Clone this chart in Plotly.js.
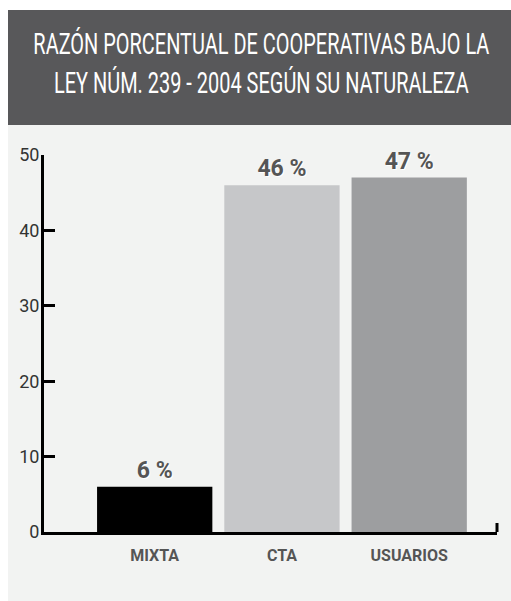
<!DOCTYPE html>
<html>
<head>
<meta charset="utf-8">
<script src="https://cdn.plot.ly/plotly-3.0.1.min.js"></script>
<style>
html,body{margin:0;padding:0;background:#fff;}
#chart{width:511px;height:601px;}
#chart .gtitle{transform:translateX(5px) scaleX(0.665);transform-origin:258px 0px;}
</style>
</head>
<body>
<div id="chart"></div>
<script>
const categories = ["MIXTA", "CTA", "USUARIOS"];
const values = [6, 46, 47];
const labels = ["6 %", "46 %", "47 %"];
const barColors = ["#000000", "#c6c7c9", "#9d9ea0"];
const yTicks = [0, 10, 20, 30, 40, 50];

const W = 511, H = 601;
const L = 44, R = 14, T = 155, B = 69;
const pw = W - L - R, ph = H - T - B;
const px = x => (x - L) / pw;
const py = y => (H - B - y) / ph;

const sans = "Roboto";

const trace = {
  type: "bar",
  x: categories,
  y: values,
  text: labels,
  textposition: "outside",
  cliponaxis: false,
  textfont: {family: sans, size: 23, color: "#555555", weight: 700, shadow: "1px 1px 0 #ffffff"},
  marker: {color: barColors, line: {width: 0}},
  width: 0.906,
  hoverinfo: "none"
};

const layout = {
  width: W, height: H,
  margin: {l: L, r: R, t: T, b: B, pad: 0},
  paper_bgcolor: "#ffffff",
  plot_bgcolor: "rgba(0,0,0,0)",
  showlegend: false,
  title: {
    text: "RAZÓN PORCENTUAL DE COOPERATIVAS BAJO LA<br>LEY NÚM. 239 - 2004 SEGÚN SU NATURALEZA",
    font: {family: sans, size: 30, color: "#ffffff"},
    x: 0.5, xanchor: "center", xref: "container",
    y: 1 - 54 / H, yanchor: "middle", yref: "container"
  },
  xaxis: {
    range: [-0.87, 2.69],
    showline: true, linecolor: "#000000", linewidth: 3,
    ticks: "", showgrid: false, zeroline: false,
    tickfont: {family: sans, size: 16, color: "#555555", weight: 700},
    ticklabelstandoff: 7
  },
  yaxis: {
    range: [0, 50],
    tickvals: yTicks,
    showline: true, linecolor: "#000000", linewidth: 3,
    ticks: "inside", ticklen: 11, tickwidth: 3, tickcolor: "#000000",
    showgrid: false, zeroline: false,
    tickfont: {family: sans, size: 18, color: "#333333"},
    ticklabelstandoff: -2
  },
  shapes: [
    {type: "rect", xref: "paper", yref: "paper", layer: "below",
     x0: px(8), x1: px(W + 5), y0: py(125), y1: py(10),
     fillcolor: "#58585a", line: {width: 0}},
    {type: "rect", xref: "paper", yref: "paper", layer: "below",
     x0: px(8), x1: px(W + 5), y0: py(H + 5), y1: py(125),
     fillcolor: "#f2f3f2", line: {width: 0}},
    {type: "line", xref: "paper", yref: "paper",
     x0: px(497), x1: px(497), y0: 0, y1: py(523),
     line: {color: "#000000", width: 3}}
  ]
};

Plotly.newPlot("chart", [trace], layout, {displayModeBar: false, staticPlot: true});
</script>
</body>
</html>
